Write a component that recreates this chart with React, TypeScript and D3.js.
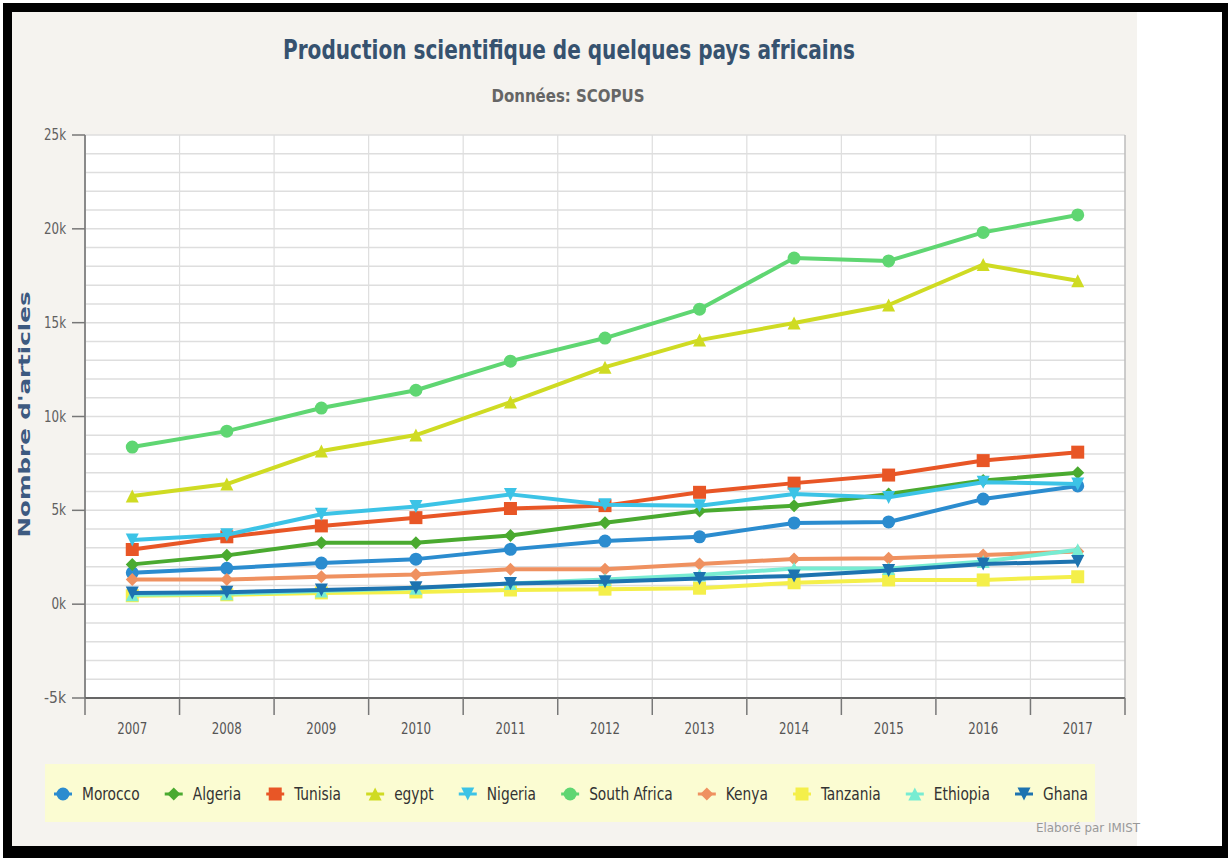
import React, { useEffect, useRef } from "react";
import * as d3 from "d3";

const years = ["2007", "2008", "2009", "2010", "2011", "2012", "2013", "2014", "2015", "2016", "2017"];
const countries = ["Morocco", "Algeria", "Tunisia", "egypt", "Nigeria", "South Africa", "Kenya", "Tanzania", "Ethiopia", "Ghana"];
const morocco = [1670, 1910, 2190, 2400, 2920, 3360, 3590, 4330, 4380, 5600, 6300];
const algeria = [2120, 2600, 3270, 3270, 3660, 4340, 4970, 5240, 5870, 6590, 7000];
const tunisia = [2910, 3590, 4170, 4610, 5100, 5250, 5960, 6450, 6880, 7650, 8100];
const egypt = [5760, 6400, 8160, 9010, 10770, 12630, 14070, 14980, 15940, 18100, 17230];
const nigeria = [3420, 3700, 4790, 5200, 5850, 5300, 5240, 5870, 5690, 6500, 6400];
const southAfrica = [8370, 9220, 10450, 11400, 12950, 14180, 15720, 18440, 18290, 19810, 20740];
const kenya = [1310, 1310, 1460, 1580, 1860, 1860, 2140, 2410, 2450, 2620, 2800];
const tanzania = [450, 500, 600, 650, 750, 800, 850, 1140, 1290, 1290, 1460];
const ethiopia = [500, 560, 700, 850, 1100, 1320, 1550, 1900, 1900, 2270, 2900];
const ghana = [600, 640, 750, 870, 1100, 1200, 1370, 1500, 1790, 2140, 2270];
const seriesValues = [morocco, algeria, tunisia, egypt, nigeria, southAfrica, kenya, tanzania, ethiopia, ghana];
const yTicks = [-5000, 0, 5000, 10000, 15000, 20000, 25000];
const yTickLabels = ["-5k", "0k", "5k", "10k", "15k", "20k", "25k"];

const colors = ["#2b8ccf", "#4aaa30", "#e85626", "#cfdb23", "#3cc3e6", "#5fd672", "#ef9160", "#f4ef4a", "#78ecd2", "#1d73b0"];
const symbols = ["circle", "diamond", "square", "triangle", "triangle-down"];

const NARROW = '"Liberation Sans Narrow", "DejaVu Sans Condensed", "Roboto Condensed", "Open Sans", sans-serif';

function symbolPath(kind: string, x: number, y: number, r: number): string {
  const p = d3.path();
  if (kind === "circle") {
    p.moveTo(x + r, y);
    p.arc(x, y, r, 0, Math.PI * 2);
  } else if (kind === "diamond") {
    p.moveTo(x, y - r);
    p.lineTo(x + r, y);
    p.lineTo(x, y + r);
    p.lineTo(x - r, y);
    p.closePath();
  } else if (kind === "square") {
    p.rect(x - r, y - r, 2 * r, 2 * r);
  } else if (kind === "triangle") {
    p.moveTo(x, y - r);
    p.lineTo(x + r, y + r);
    p.lineTo(x - r, y + r);
    p.closePath();
  } else {
    p.moveTo(x - r, y - r);
    p.lineTo(x + r, y - r);
    p.lineTo(x, y + r);
    p.closePath();
  }
  return p.toString();
}

export default function App() {
  const ref = useRef<SVGSVGElement | null>(null);

  useEffect(() => {
    const svg = d3.select(ref.current);
    svg.selectAll("*").remove();
    const W = 1228, H = 858;

    // frame
    svg.append("rect").attr("x", 0).attr("y", 0).attr("width", W).attr("height", H).attr("fill", "#ffffff");
    svg.append("rect").attr("x", 3).attr("y", 3).attr("width", W - 3).attr("height", H - 3).attr("fill", "#000000");
    svg.append("rect").attr("x", 12).attr("y", 12).attr("width", 1125).attr("height", 834).attr("fill", "#f5f3ef");
    svg.append("rect").attr("x", 1137).attr("y", 12).attr("width", 85).attr("height", 834).attr("fill", "#ffffff");

    const left = 85, right = 1125, top = 135, bottom = 698;
    const x = d3.scaleBand<string>().domain(years).range([left, right]);
    const y = d3.scaleLinear().domain([-5000, 25000]).range([bottom, top]);
    const cx = (yr: string) => (x(yr) as number) + x.bandwidth() / 2;

    svg.append("rect").attr("x", left).attr("y", top).attr("width", right - left).attr("height", bottom - top).attr("fill", "#ffffff");

    // horizontal grid every 1000
    const minor = d3.range(-5000, 25001, 1000);
    svg.append("g").selectAll("line").data(minor).join("line")
      .attr("x1", left).attr("x2", right)
      .attr("y1", (d) => y(d)).attr("y2", (d) => y(d))
      .attr("stroke", "#dedede").attr("stroke-width", 1.5);

    // vertical grid at band boundaries
    const bounds = years.map((yr) => x(yr) as number).concat([right]);
    svg.append("g").selectAll("line").data(bounds.slice(1, -1)).join("line")
      .attr("x1", (d) => d).attr("x2", (d) => d)
      .attr("y1", top).attr("y2", bottom)
      .attr("stroke", "#dedede").attr("stroke-width", 1.2);

    // axes
    svg.append("line").attr("x1", left).attr("x2", left).attr("y1", top).attr("y2", bottom).attr("stroke", "#8a8a8a").attr("stroke-width", 2);
    svg.append("line").attr("x1", right).attr("x2", right).attr("y1", top).attr("y2", bottom).attr("stroke", "#bdbdbd").attr("stroke-width", 1.5);
    svg.append("line").attr("x1", left).attr("x2", right).attr("y1", bottom).attr("y2", bottom).attr("stroke", "#666666").attr("stroke-width", 2);

    svg.append("g").selectAll("line").data(bounds).join("line")
      .attr("x1", (d) => d).attr("x2", (d) => d)
      .attr("y1", bottom).attr("y2", bottom + 17)
      .attr("stroke", "#777777").attr("stroke-width", 1.5);

    svg.append("g").selectAll("text").data(years).join("text")
      .attr("x", (d) => cx(d)).attr("y", bottom + 36)
      .attr("text-anchor", "middle")
      .attr("font-family", NARROW).attr("font-size", 16)
      .attr("fill", "#555555")
      .attr("textLength", 30).attr("lengthAdjust", "spacingAndGlyphs")
      .text((d) => d);

    svg.append("g").selectAll("line").data(yTicks).join("line")
      .attr("x1", left - 13).attr("x2", left)
      .attr("y1", (d) => y(d)).attr("y2", (d) => y(d))
      .attr("stroke", "#777777").attr("stroke-width", 1.5);

    svg.append("g").selectAll("text").data(yTicks).join("text")
      .attr("x", left - 19).attr("y", (d) => y(d) + 5)
      .attr("text-anchor", "end")
      .attr("font-family", NARROW).attr("font-size", 15)
      .attr("fill", "#606060")
      .attr("textLength", (d, i) => yTickLabels[i].length * 7.3)
      .attr("lengthAdjust", "spacingAndGlyphs")
      .text((d, i) => yTickLabels[i]);

    // y axis title
    svg.append("text")
      .attr("transform", `translate(30, ${(top + bottom) / 2 - 2}) rotate(-90)`)
      .attr("text-anchor", "middle")
      .attr("font-family", "Verdana, 'DejaVu Sans', sans-serif")
      .attr("font-weight", "bold").attr("font-size", 16)
      .attr("fill", "#3d5a80")
      .attr("textLength", 246).attr("lengthAdjust", "spacingAndGlyphs")
      .text("Nombre d'articles");

    // titles
    svg.append("text").attr("x", 569).attr("y", 59).attr("text-anchor", "middle")
      .attr("font-family", NARROW).attr("font-weight", "bold").attr("font-size", 27)
      .attr("fill", "#36526f")
      .attr("textLength", 572).attr("lengthAdjust", "spacingAndGlyphs")
      .text("Production scientifique de quelques pays africains");
    svg.append("text").attr("x", 568).attr("y", 102).attr("text-anchor", "middle")
      .attr("font-family", NARROW).attr("font-weight", "bold").attr("font-size", 17)
      .attr("fill", "#666666")
      .attr("textLength", 153).attr("lengthAdjust", "spacingAndGlyphs")
      .text("Données: SCOPUS");

    // series
    const line = d3.line<number>().x((d, i) => cx(years[i])).y((d) => y(d));
    seriesValues.forEach((vals, si) => {
      const g = svg.append("g");
      g.append("path").attr("d", line(vals) as string)
        .attr("fill", "none").attr("stroke", colors[si]).attr("stroke-width", 4)
        .attr("stroke-linejoin", "round");
      g.selectAll("path.m").data(vals).join("path").attr("class", "m")
        .attr("d", (d, i) => symbolPath(symbols[si % 5], cx(years[i]), y(d), 6.5))
        .attr("fill", colors[si]);
    });

    // legend
    svg.append("rect").attr("x", 45).attr("y", 764).attr("width", 1050).attr("height", 58).attr("fill", "#fbfcd2");
    const lg = svg.append("g");
    const texts: SVGTextElement[] = [];
    countries.forEach((c) => {
      const t = lg.append("text").attr("y", 800)
        .attr("font-family", NARROW).attr("font-size", 17).attr("fill", "#333333")
        .text(c);
      texts.push(t.node() as SVGTextElement);
    });
    const widths = texts.map((t) => t.getComputedTextLength() * 0.9);
    texts.forEach((t, i) => {
      d3.select(t).attr("textLength", widths[i]).attr("lengthAdjust", "spacingAndGlyphs");
    });
    const symW = 28; // marker-line + padding to text
    const startX = 54, endX = 1088;
    const total = widths.reduce((a, b) => a + b, 0) + symW * countries.length;
    const gap = (endX - startX - total) / (countries.length - 1);
    let pos = startX;
    countries.forEach((c, i) => {
      const mx = pos + 9;
      lg.append("line").attr("x1", mx - 9).attr("x2", mx + 9).attr("y1", 794).attr("y2", 794)
        .attr("stroke", colors[i]).attr("stroke-width", 3);
      lg.append("path").attr("d", symbolPath(symbols[i % 5], mx, 794, 6.5)).attr("fill", colors[i]);
      d3.select(texts[i]).attr("x", pos + symW);
      pos += symW + widths[i] + gap;
    });

    svg.append("text").attr("x", 1140).attr("y", 832).attr("text-anchor", "end")
      .attr("font-family", NARROW).attr("font-size", 12).attr("fill", "#999999")
      .attr("textLength", 104).attr("lengthAdjust", "spacingAndGlyphs")
      .text("Elaboré par IMIST");
  }, []);

  return (
    <svg ref={ref} width={1228} height={858}
      style={{ position: "absolute", left: 0, top: 0, display: "block" }} />
  );
}
